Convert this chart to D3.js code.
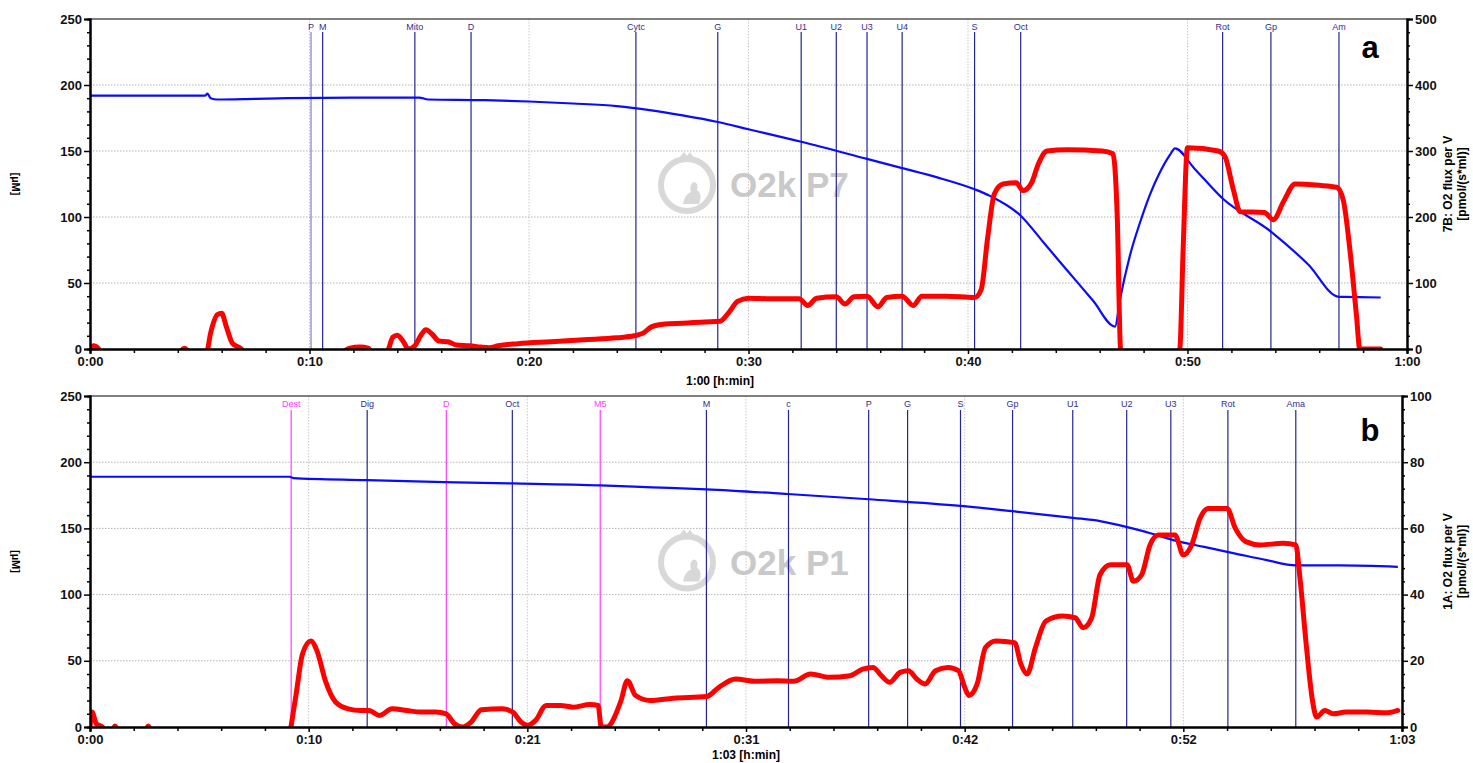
<!DOCTYPE html>
<html><head><meta charset="utf-8">
<script src="https://cdn.jsdelivr.net/npm/d3@7"></script>
<style>body{margin:0;background:#fff}svg{display:block}text{font-family:"Liberation Sans",Arial,sans-serif}</style>
</head><body><svg id="c" width="1473" height="763"></svg>
<script>
// ---------- DATA ----------
// Panel a (top)
const aXTickVals = [0,10,20,30,40,50,60];
const aXTickLabels = ["0:00","0:10","0:20","0:30","0:40","0:50","1:00"];
const aMarkerLabels = ["P","M","Mito","D","Cytc","G","U1","U2","U3","U4","S","Oct","Rot","Gp","Am"];
const aMarkerTimes  = [10.07,10.6,14.8,17.36,24.87,28.6,32.4,34.0,35.4,37.0,40.3,42.4,51.6,53.8,56.9];
const aO2Time = [0,5.25,5.35,5.5,5.8,7.5,9,12,15,15.4,18,20,22,24,25.5,27,28.6,30,32.4,35.4,37,38.6,40.3,41,42.4,43.5,44.6,45.7,46.7,46.92,47.38,47.84,48.29,48.75,49.2,49.43,50.3,51.6,53.8,55.5,56.9,57.1,58.8];
const aO2Conc = [192,192,193.5,190,189,189.5,190,190.5,190.5,189,188.5,187.5,186,184,181,177,172,166.5,157,144,137,130,121,116,101,79.5,58,36.5,17,37,71,96,117,134,147,152,137,114,89,64,39.5,39.5,39];
const aFluxTime = [0,0.15,0.4,0.5,4.0,4.3,4.6,5.3,5.5,5.8,6.0,6.2,6.5,6.9,7.0,11.4,11.8,12.3,12.7,12.8,13.5,13.8,14.0,14.3,14.5,14.8,15.1,15.3,15.6,15.9,16.3,16.7,17.3,17.8,18.2,18.6,19.5,21,22.5,24,24.8,25.2,25.6,26.2,27,28,28.7,29.1,29.5,30,31,32.3,32.7,33.1,34,34.4,34.8,35.4,35.9,36.3,37,37.5,37.9,39,40.3,40.6,40.9,41.2,41.6,42.2,42.5,42.9,43.2,43.6,44.5,46.1,46.6,46.8,46.95,47.1,49.5,49.65,49.8,50.0,51.4,51.7,52.1,52.4,53.5,53.9,54.4,54.9,56.0,56.8,57.1,57.4,57.7,57.85,58.8];
const aFluxVal  = [0,5,0,-6,-6,1,-6,-6,25,52,54,35,8,0,-6,-6,1,3,1,-6,-6,18,21,10,0,5,22,29,22,12,11,6,5,3,2,5,8,11,14,17,20,24,34,38,39,41,42,55,72,77,76,76,66,77,79,68,79,80,64,78,80,66,80,80,78,90,170,235,250,252,240,252,280,300,302,300,296,200,0,-10,-10,0,150,305,300,292,240,208,207,196,225,250,248,245,225,150,50,0,0];
// Panel b (bottom)
const bXTickVals = [0,10.5,21,31.5,42,52.5,63];
const bXTickLabels = ["0:00","0:10","0:21","0:31","0:42","0:52","1:03"];
const bMarkerLabels = ["Dest","Dig","D","Oct","M5","M","c","P","G","S","Gp","U1","U2","U3","Rot","Ama"];
const bMarkerTimes  = [9.66,13.31,17.11,20.28,24.5,29.6,33.54,37.39,39.26,41.8,44.3,47.19,49.78,51.9,54.64,57.9];
const bMarkerKinds  = ["m","n","m","n","m","n","n","n","n","n","n","n","n","n","n","n"];
const bO2Time = [0,9.6,9.75,13.3,17,20.3,24.5,27,29.6,33.5,37.4,41.8,44.3,47.2,48.5,49.8,51,52.3,53.5,55,56.5,57.9,60,62.8];
const bO2Conc = [189,189,188,186.5,185,184,182.5,181,179.5,176,172,167,163,158,155.5,151,146,140,136,131,126,122,122,121];
const bFluxTime = [0,0.1,0.3,0.6,0.7,1.0,1.2,1.4,2.6,2.8,3.0,3.2,9.6,9.65,9.9,10.2,10.6,10.9,11.3,11.8,12.4,13,13.4,13.9,14.5,15.2,15.9,16.6,17.1,17.5,17.9,18.3,18.8,19.8,20.3,20.7,21,21.4,21.9,22.6,23.2,24,24.4,24.55,24.8,25.5,25.8,26.2,26.9,28,29.6,30.2,31,32,33,33.8,34.6,35.5,36.5,37.1,37.6,38,38.4,38.9,39.3,39.7,40.1,40.6,41.2,41.7,42.0,42.2,42.6,43.0,43.5,44.4,44.7,45.0,45.4,45.9,46.7,47.3,47.7,48.1,48.5,49,49.8,50.1,50.5,50.9,51.3,52.1,52.5,52.9,53.3,53.7,54.6,55.0,55.5,56.2,57.3,57.9,58.1,58.4,58.7,58.9,59.3,59.7,60.3,61.3,62.3,62.8];
const bFluxVal  = [0,4.5,1,0,-2,-2,0.3,-2,-2,0.3,-2,-2,-2,0,10,22,26,23,14,7.5,5.5,5,5,3.5,5.5,5,4.5,4.5,4,1,0,1.5,5.2,5.5,4.5,1.5,0.5,2,6.5,6.5,6,6.8,6.5,0,0,8,14,9.5,8,8.7,9.2,12,14.5,13.8,14,13.8,16,15,15.5,17.5,18,15.5,13.5,16.5,17,14.5,13,17,18,17,12,9.5,13,24,26,25.5,19,16,24,32,33.5,33,30,33,46,49,49,44,46,55,58,58,52,55,63,66,66,60,56,55,55.5,55,45,25,8,3,5,4,4.5,4.5,4.3,5];

// ---------- DRAW ----------
const svg = d3.select("#c");
const font = '"Liberation Sans",Arial,sans-serif';

function panel(cfg){
  const g = svg.append("g");
  const x = d3.scaleLinear().domain(cfg.xDomain).range([cfg.x0, cfg.x1]);
  const yL = d3.scaleLinear().domain([0,250]).range([cfg.yBot, cfg.yTop]);
  const yR = d3.scaleLinear().domain([0,cfg.rMax]).range([cfg.yBot, cfg.yTop]);
  const clipId = "clip"+cfg.id;
  svg.append("clipPath").attr("id",clipId).append("rect")
    .attr("x",cfg.x0).attr("y",cfg.yTop).attr("width",cfg.x1-cfg.x0).attr("height",cfg.yBot-cfg.yTop);

  // grid
  g.append("g").selectAll("line").data([50,100,150,200]).join("line")
    .attr("x1",cfg.x0).attr("x2",cfg.x1).attr("y1",d=>yL(d)).attr("y2",d=>yL(d))
    .attr("stroke","#b5b5b5").attr("stroke-width",1).attr("stroke-dasharray","1.5,1.5");
  g.append("g").selectAll("line").data(cfg.xTicks.slice(1,-1)).join("line")
    .attr("x1",d=>x(d)).attr("x2",d=>x(d)).attr("y1",cfg.yTop).attr("y2",cfg.yBot)
    .attr("stroke","#c8c8c8").attr("stroke-width",1).attr("stroke-dasharray","1.5,1.5");

  // watermark
  const wm = g.append("g").attr("opacity",0.9);
  const cx = 687, cy = (cfg.yTop+cfg.yBot)/2;
  wm.append("circle").attr("cx",cx).attr("cy",cy+1).attr("r",26).attr("fill","none").attr("stroke","#d4d4d4").attr("stroke-width",6);
  wm.append("path").attr("d",`M${cx-8},${cy-26} l5,-6 l3,4 l3,-4 l4,6 Z`).attr("fill","#d4d4d4");
  wm.append("path").attr("d",`M${cx-4},${cy+20} q2,-10 8,-12 q-2,-6 2,-10 q6,0 4,8 q6,4 2,14 Z`).attr("fill","#d4d4d4");
  wm.append("text").attr("x",730).attr("y",cy+13).text(cfg.wmText)
    .attr("font-family",font).attr("font-weight","bold").attr("font-size",35).attr("fill","#c4c4c4");

  // markers
  const mk = g.append("g");
  cfg.markerTimes.forEach((t,i)=>{
    const col = cfg.markerKinds && cfg.markerKinds[i]==="m" ? "#ff33ff" : "#1a1a90";
    const tcol = cfg.markerKinds && cfg.markerKinds[i]==="m" ? "#ff40ff" : "#2e2e96";
    mk.append("line").attr("x1",x(t)).attr("x2",x(t)).attr("y1",cfg.markY0).attr("y2",cfg.yBot)
      .attr("stroke",col).attr("stroke-width",1.2).attr("opacity",cfg.light&&cfg.light.includes(i)?0.55:0.95);
    mk.append("text").attr("x",x(t)).attr("y",cfg.markTextY).attr("text-anchor","middle")
      .attr("font-family",font).attr("font-size",9).attr("fill",tcol).text(cfg.markerLabels[i]);
  });

  // top border
  g.append("line").attr("x1",cfg.x0).attr("x2",cfg.x1).attr("y1",cfg.yTop).attr("y2",cfg.yTop)
    .attr("stroke","#555").attr("stroke-width",1.5);

  // blue O2 concentration
  const o2 = cfg.o2Time.map((t,i)=>[t,cfg.o2Conc[i]]);
  g.append("path").datum(o2).attr("clip-path",`url(#${clipId})`)
    .attr("d",d3.line().x(d=>x(d[0])).y(d=>yL(d[1])).curve(d3.curveMonotoneX))
    .attr("fill","none").attr("stroke","#0a0aff").attr("stroke-width",2.2);

  // red flux
  const fl = cfg.fluxTime.map((t,i)=>[t,cfg.fluxVal[i]]);
  g.append("path").datum(fl).attr("clip-path",`url(#${clipId})`)
    .attr("d",d3.line().x(d=>x(d[0])).y(d=>yR(d[1])).curve(d3.curveMonotoneX))
    .attr("fill","none").attr("stroke","#ff0000").attr("stroke-width",5).attr("stroke-linejoin","round").attr("stroke-linecap","round");

  // axes
  const ax = g.append("g").attr("font-family",font);
  ax.append("g").attr("transform",`translate(${cfg.x0},0)`)
    .call(d3.axisLeft(yL).tickValues([0,50,100,150,200,250]).tickSize(6).tickPadding(2).tickFormat(d3.format("d")));
  ax.append("g").attr("transform",`translate(${cfg.x0},0)`)
    .call(d3.axisLeft(yL).tickValues(d3.range(10,250,10).filter(v=>v%50)).tickSize(3).tickFormat(""));
  const rStep = cfg.rMax/5, rMinor = cfg.rMax/25;
  ax.append("g").attr("transform",`translate(${cfg.x1},0)`)
    .call(d3.axisRight(yR).tickValues(d3.range(0,cfg.rMax+1,rStep)).tickSize(6).tickPadding(2).tickFormat(d3.format("d")));
  ax.append("g").attr("transform",`translate(${cfg.x1},0)`)
    .call(d3.axisRight(yR).tickValues(d3.range(rMinor,cfg.rMax,rMinor).filter(v=>Math.abs(v/rStep-Math.round(v/rStep))>1e-6)).tickSize(3).tickFormat(""));
  ax.append("g").attr("transform",`translate(0,${cfg.yBot})`)
    .call(d3.axisBottom(x).tickValues(cfg.xTicks).tickSize(5).tickPadding(3).tickFormat((d,i)=>cfg.xLabels[i]));
  ax.append("g").attr("transform",`translate(0,${cfg.yBot})`)
    .call(d3.axisBottom(x).tickValues(d3.range(1,5).flatMap(k=>cfg.xTicks.slice(0,-1).map((t,j)=>t+k*(cfg.xTicks[1]-cfg.xTicks[0])/5))).tickSize(4).tickFormat(""));
  ax.selectAll(".domain").attr("stroke","#000").attr("stroke-width",2);
  ax.selectAll(".tick line").attr("stroke","#000").attr("stroke-width",1.5);
  ax.selectAll(".tick text").attr("font-family",font).attr("font-weight","bold").attr("font-size",13).attr("fill","#111");

  // titles
  g.append("text").attr("x",cfg.xTitleX).attr("y",cfg.xTitleY).attr("text-anchor","middle")
    .attr("font-family",font).attr("font-weight","bold").attr("font-size",12).text(cfg.xTitle);
  const ly = (cfg.yTop+cfg.yBot)/2;
  g.append("text").attr("transform",`translate(12,${ly}) rotate(90)`).attr("text-anchor","middle")
    .attr("font-family",font).attr("font-weight","bold").attr("font-size",11).text("[µM]");
  const rt = g.append("text").attr("transform",`translate(1452,${ly}) rotate(-90)`).attr("text-anchor","middle")
    .attr("font-family",font).attr("font-weight","bold").attr("font-size",12);
  rt.append("tspan").attr("x",0).attr("dy",0).text(cfg.rTitle);
  rt.append("tspan").attr("x",0).attr("dy",14).text("[pmol/(s*ml)]");
  g.append("text").attr("x",1370).attr("y",cfg.letterY).attr("text-anchor","middle")
    .attr("font-family",font).attr("font-weight","bold").attr("font-size",31).text(cfg.letter);
}

panel({id:"a", x0:90, x1:1407, yTop:19, yBot:349, xDomain:[0,60], rMax:500,
  xTicks:aXTickVals, xLabels:aXTickLabels, markerLabels:aMarkerLabels, markerTimes:aMarkerTimes, light:[0],
  markY0:32, markTextY:30, o2Time:aO2Time, o2Conc:aO2Conc, fluxTime:aFluxTime, fluxVal:aFluxVal,
  wmText:"O2k P7", xTitle:"1:00 [h:min]", xTitleX:720, xTitleY:385, rTitle:"7B: O2 flux per V", letter:"a", letterY:58});
panel({id:"b", x0:90, x1:1402, yTop:396, yBot:727, xDomain:[0,63], rMax:100,
  xTicks:bXTickVals, xLabels:bXTickLabels, markerLabels:bMarkerLabels, markerTimes:bMarkerTimes, markerKinds:bMarkerKinds,
  markY0:410, markTextY:407, o2Time:bO2Time, o2Conc:bO2Conc, fluxTime:bFluxTime, fluxVal:bFluxVal,
  wmText:"O2k P1", xTitle:"1:03 [h:min]", xTitleX:746, xTitleY:759, rTitle:"1A: O2 flux per V", letter:"b", letterY:441});
</script></body></html>
